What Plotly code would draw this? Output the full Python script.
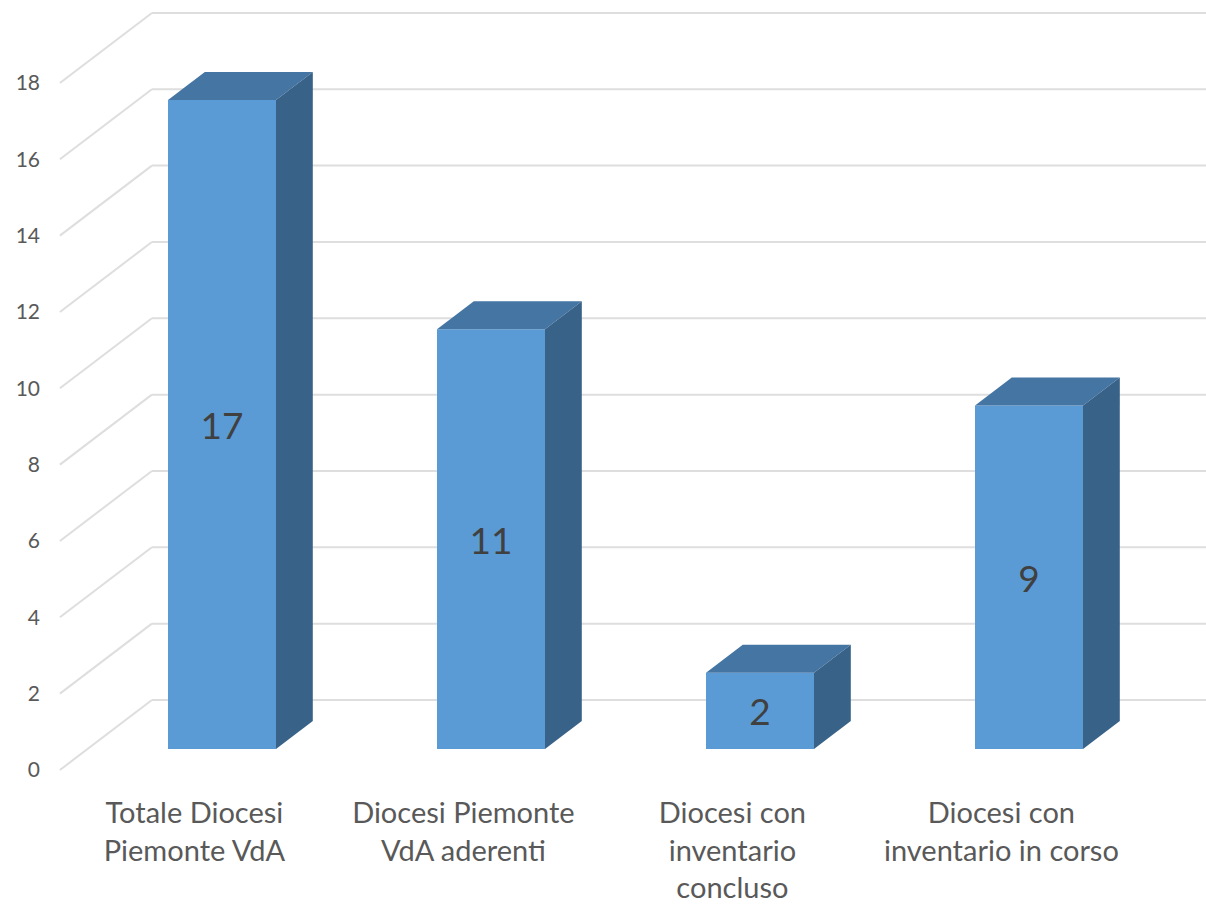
import plotly.graph_objects as go

# ---- data ----
categories = ["Totale Diocesi<br>Piemonte VdA",
              "Diocesi Piemonte<br>VdA aderenti",
              "Diocesi con<br>inventario<br>concluso",
              "Diocesi con<br>inventario in corso"]
values = [17, 11, 2, 9]
y_ticks = [0, 2, 4, 6, 8, 10, 12, 14, 16, 18]

# ---- geometry / style ----
W, H = 1206, 904
PX_X = 269.0           # pixels per category
PX_Y = 38.17           # pixels per value unit
DX = 92 / PX_X         # floor depth (x, category units)
DY = 70 / PX_Y         # floor depth (y, value units)
BAR_W = 108 / PX_X
F, B = 0.3, 0.7        # bar front/back depth fractions
ML, MB = 56, 124
X0_PIX = 194.4         # pixel of category 0 (front plane)
Y0_PIX = 770           # pixel of value 0 (front plane)

FRONT = "#5b9bd5"
TOP = "#4575a3"
SIDE = "#396288"
GRID = "#dedede"
FONT = "Lato"

xr = [(ML - X0_PIX) / PX_X, (W - X0_PIX) / PX_X]
plot_h = H - MB
yr = [(Y0_PIX - plot_h) / PX_Y, Y0_PIX / PX_Y]

n = len(values)
x_cat = list(range(n))
x_front = [i + F * DX for i in x_cat]

fig = go.Figure()

# gridlines (below everything)
left = -0.5
right = n - 0.5
shapes = []
for t in y_ticks:
    shapes.append(dict(type="line", xref="x", yref="y", layer="below",
                       x0=left, y0=t, x1=left + DX, y1=t + DY,
                       line=dict(color=GRID, width=2)))
    shapes.append(dict(type="line", xref="x", yref="y", layer="below",
                       x0=left + DX, y0=t + DY, x1=right + DX, y1=t + DY,
                       line=dict(color=GRID, width=2)))

# front faces
fig.add_trace(go.Bar(
    x=x_front, y=values, base=F * DY, width=BAR_W,
    marker=dict(color=FRONT, line=dict(width=0)),
    text=[str(v) for v in values], textposition="inside",
    insidetextanchor="middle", textangle=0,
    insidetextfont=dict(family=FONT, size=37, color="#404040"),
    hoverinfo="skip", showlegend=False))

# top and side faces
for i, v in enumerate(values):
    xl = i - BAR_W / 2
    xrr = i + BAR_W / 2
    top_x = [xl + F * DX, xrr + F * DX, xrr + B * DX, xl + B * DX, xl + F * DX]
    top_y = [v + F * DY, v + F * DY, v + B * DY, v + B * DY, v + F * DY]
    fig.add_trace(go.Scatter(x=top_x, y=top_y, fill="toself", mode="lines",
                             fillcolor=TOP, line=dict(width=0, color=TOP),
                             hoverinfo="skip", showlegend=False))
    side_x = [xrr + F * DX, xrr + F * DX, xrr + B * DX, xrr + B * DX, xrr + F * DX]
    side_y = [F * DY, v + F * DY, v + B * DY, B * DY, F * DY]
    fig.add_trace(go.Scatter(x=side_x, y=side_y, fill="toself", mode="lines",
                             fillcolor=SIDE, line=dict(width=0, color=SIDE),
                             hoverinfo="skip", showlegend=False))

fig.update_layout(
    width=W, height=H, autosize=False,
    margin=dict(l=ML, r=0, t=0, b=MB, pad=0),
    paper_bgcolor="white", plot_bgcolor="white",
    shapes=shapes,
    xaxis=dict(range=xr, tickvals=x_cat, ticktext=categories,
               showgrid=False, zeroline=False, showline=False, ticks="",
               automargin=False,
               tickfont=dict(family=FONT, size=29, color="#595959"),
               ticklabelstandoff=13, fixedrange=True),
    yaxis=dict(range=yr, tickvals=y_ticks, ticktext=[str(t) for t in y_ticks],
               showgrid=False, zeroline=False, showline=False, ticks="",
               automargin=False,
               tickfont=dict(family=FONT, size=21, color="#595959"),
               ticklabelstandoff=15, fixedrange=True),
)

fig.write_html("out.html")
